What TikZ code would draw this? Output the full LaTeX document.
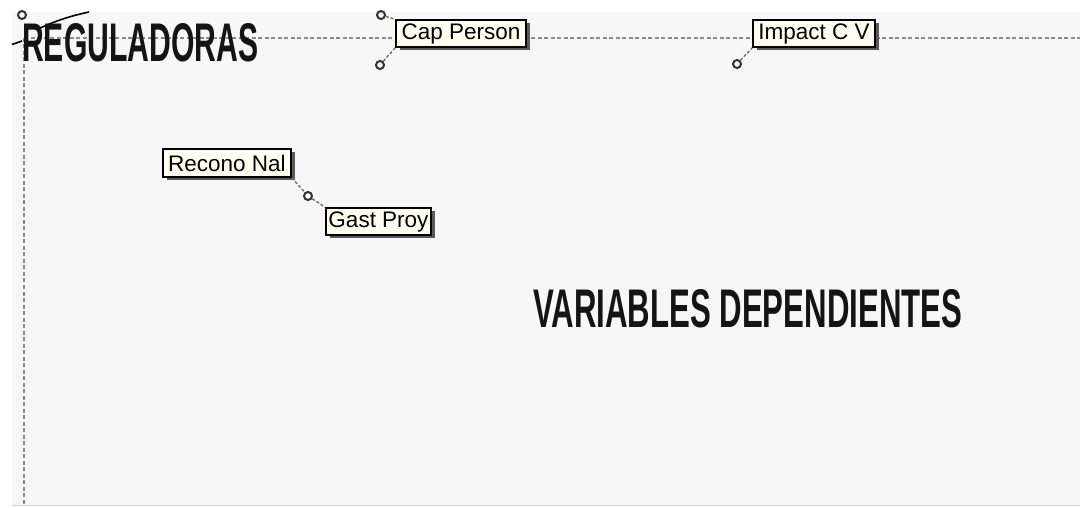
\documentclass[tikz,border=0pt]{standalone}
\usepackage{fontspec}
\setmainfont{Liberation Sans}
\usetikzlibrary{shadows}
\definecolor{panel}{HTML}{F7F7F7}
\definecolor{edgegray}{HTML}{D2D2D2}
\definecolor{guide}{HTML}{8A8A8A}
\definecolor{cream}{HTML}{FFFFF2}
\definecolor{linkgray}{HTML}{6E6E6E}
\tikzset{
  label box/.style={draw=black, line width=1.6pt, fill=cream, inner sep=0pt,
    font=\fontsize{22.5}{25}\selectfont, text=black,
    drop shadow={shadow xshift=3.5pt, shadow yshift=-3.5pt, fill=black!65, opacity=1}},
  guide line/.style={guide, line width=1.4pt, dash pattern=on 4pt off 2.5pt},
  link/.style={linkgray, line width=1.4pt, dash pattern=on 3pt off 2pt},
  knob/.style={circle, draw=black!80, line width=2pt, minimum size=8pt, inner sep=0pt},
  big title/.style={anchor=base west, inner sep=0pt, text=black!92, font=\bfseries}
}
\begin{document}
\begin{tikzpicture}[x=1pt, y=-1pt]
  \useasboundingbox (0,0) rectangle (1080,508);
  % canvas panel and its lower border
  \fill[white] (0,0) rectangle (1080,508);
  \fill[panel] (12,12) rectangle (1080,505);
  \draw[edgegray, line width=1.5pt] (12,505.5) -- (1080,505.5);

  % dashed frame guides
  \coordinate (gtl) at (24,38);
  \coordinate (gtr) at (1080,38);
  \coordinate (gbl) at (24,505);
  \draw[guide line] (gtl) -- (gtr);
  \draw[guide line] (gtl) -- (gbl);

  % stray connector pieces at the top left corner
  \node[knob] (tk) at (22,15) {};
  \coordinate (ta) at (38,29);
  \coordinate (tb) at (89,12);
  \draw[black, line width=1.6pt] (ta) to[bend left=6] (tb);
  \coordinate (la) at (12,44.5);
  \coordinate (lb) at (22,41);
  \draw[black, line width=1.6pt] (la) -- (lb);

  % section titles
  \node[big title] (reg) at (22,62) {\resizebox{236pt}{38pt}{REGULADORAS}};
  \node[big title] (dep) at (533,327) {\resizebox{429pt}{38pt}{VARIABLES DEPENDIENTES}};

  % variable labels
  \node[label box, minimum width=130pt, minimum height=27pt] (cap) at (461,33.5) {Cap Person};
  \node[label box, minimum width=122pt, minimum height=27pt] (imp) at (814,33.5) {Impact C V};
  \node[label box, minimum width=128pt, minimum height=28pt] (rec) at (227,163) {Recono Nal};
  \node[label box, minimum width=105pt, minimum height=27pt] (gas) at (378.5,221.5) {Gast Proy};

  % connector knobs
  \node[knob] (capk1) at (381,15) {};
  \node[knob] (capk2) at (380,65) {};
  \node[knob] (impk) at (737,64) {};
  \node[knob] (reck) at (308,196) {};

  % connectors between knobs and label corners
  \draw[link] (capk1) -- (cap.north west);
  \draw[link] (capk2) -- (cap.south west);
  \draw[link] (impk) -- (imp.south west);
  \draw[link] (rec.south east) -- (reck) -- (gas.north west);
\end{tikzpicture}
\end{document}
